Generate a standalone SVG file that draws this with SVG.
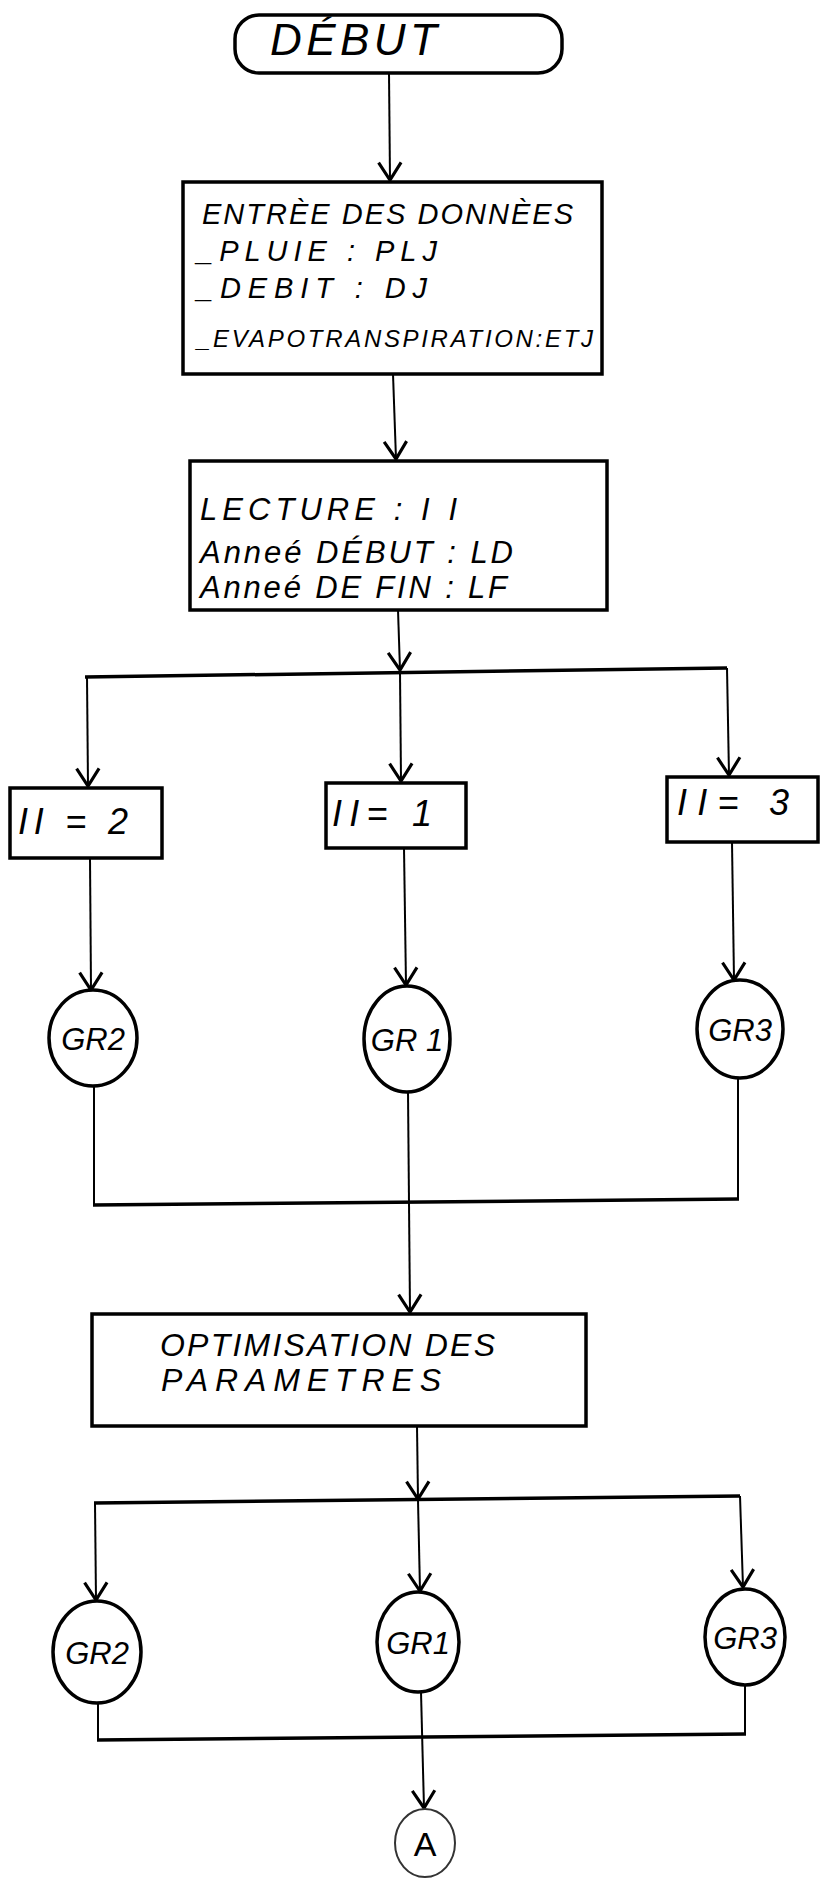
<svg xmlns="http://www.w3.org/2000/svg" width="824" height="1894" viewBox="0 0 824 1894">
<defs>
<marker id="arr" markerUnits="userSpaceOnUse" markerWidth="30" markerHeight="30" refX="0" refY="0" viewBox="-16 -12 20 24" orient="auto" overflow="visible">
<path d="M-14,-9 L0,0 L-14,9" fill="none" stroke="#000" stroke-width="2.5"/>
</marker>
<style>
.box{fill:#fff;stroke:#000;stroke-width:3.5}
.ell{fill:#fff;stroke:#000;stroke-width:3.5}
.c{fill:none;stroke:#000;stroke-width:2}
.h{fill:none;stroke:#000;stroke-width:3.5}
.t{font-family:"Liberation Sans",Arial,sans-serif;font-style:italic;fill:#000}
</style>
</defs>
<rect x="0" y="0" width="824" height="1894" fill="#fff"/>
<g id="connectors">
<line class="c" x1="389" y1="73" x2="390" y2="180" marker-end="url(#arr)"/>
<line class="c" x1="393" y1="374" x2="396" y2="459" marker-end="url(#arr)"/>
<line class="c" x1="398" y1="610" x2="400" y2="670" marker-end="url(#arr)"/>
<line class="h" x1="85" y1="677" x2="727" y2="668"/>
<line class="c" x1="87" y1="677" x2="88" y2="786" marker-end="url(#arr)"/>
<line class="c" x1="400" y1="672" x2="401" y2="781" marker-end="url(#arr)"/>
<line class="c" x1="727" y1="668" x2="729" y2="775" marker-end="url(#arr)"/>
<line class="c" x1="90" y1="858" x2="91" y2="990" marker-end="url(#arr)"/>
<line class="c" x1="404" y1="848" x2="406" y2="985" marker-end="url(#arr)"/>
<line class="c" x1="732" y1="842" x2="734" y2="980" marker-end="url(#arr)"/>
<line class="c" x1="94" y1="1086" x2="94" y2="1205"/>
<line class="c" x1="738" y1="1078" x2="738" y2="1199"/>
<line class="c" x1="408" y1="1092" x2="410" y2="1312" marker-end="url(#arr)"/>
<line class="h" x1="93" y1="1205" x2="739" y2="1199"/>
<line class="c" x1="417" y1="1426" x2="418" y2="1499" marker-end="url(#arr)"/>
<line class="h" x1="94" y1="1503" x2="740" y2="1496"/>
<line class="c" x1="95" y1="1503" x2="96" y2="1600" marker-end="url(#arr)"/>
<line class="c" x1="418" y1="1500" x2="420" y2="1591" marker-end="url(#arr)"/>
<line class="c" x1="740" y1="1496" x2="743" y2="1587" marker-end="url(#arr)"/>
<line class="c" x1="98" y1="1703" x2="98" y2="1740"/>
<line class="c" x1="745" y1="1685" x2="745" y2="1734"/>
<line class="h" x1="97" y1="1740" x2="746" y2="1734"/>
<line class="c" x1="421" y1="1692" x2="424" y2="1808" marker-end="url(#arr)"/>
</g>
<g id="debut">
<rect class="box" x="235" y="15" width="327" height="58" rx="24"/>
<text class="t" x="270" y="55" font-size="44" textLength="167" lengthAdjust="spacing">DÉBUT</text>
</g>
<g id="entree">
<rect class="box" x="183" y="182" width="419" height="192"/>
<text class="t" x="202" y="224" font-size="29" textLength="371" lengthAdjust="spacing">ENTRÈE DES DONNÈES</text>
<text class="t" x="197" y="261" font-size="29" textLength="240" lengthAdjust="spacing">_PLUIE : PLJ</text>
<text class="t" x="197" y="298" font-size="29" textLength="230" lengthAdjust="spacing">_DEBIT : DJ</text>
<text class="t" x="197" y="347" font-size="24" textLength="396" lengthAdjust="spacing">_EVAPOTRANSPIRATION:ETJ</text>
</g>
<g id="lecture">
<rect class="box" x="190" y="461" width="417" height="149"/>
<text class="t" x="200" y="520" font-size="31" textLength="257" lengthAdjust="spacing">LECTURE : I I</text>
<text class="t" x="200" y="563" font-size="31" textLength="313" lengthAdjust="spacing">Anneé DÉBUT : LD</text>
<text class="t" x="200" y="598" font-size="31" textLength="307" lengthAdjust="spacing">Anneé DE FIN : LF</text>
</g>
<g id="ii2">
<rect class="box" x="10" y="788" width="152" height="70"/>
<text class="t" x="18" y="834" font-size="36" textLength="110" lengthAdjust="spacing">II = 2</text>
</g>
<g id="ii1">
<rect class="box" x="326" y="783" width="140" height="65"/>
<text class="t" x="332" y="826" font-size="36" textLength="100" lengthAdjust="spacing">II= 1</text>
</g>
<g id="ii3">
<rect class="box" x="667" y="777" width="151" height="65"/>
<text class="t" x="677" y="815" font-size="36" textLength="112" lengthAdjust="spacing">II= 3</text>
</g>
<g id="gr2a">
<ellipse class="ell" cx="93" cy="1038" rx="44" ry="48"/>
<text class="t" x="93" y="1050" font-size="31" text-anchor="middle">GR2</text>
</g>
<g id="gr1a">
<ellipse class="ell" cx="407" cy="1039" rx="43" ry="53"/>
<text class="t" x="407" y="1051" font-size="31" text-anchor="middle">GR 1</text>
</g>
<g id="gr3a">
<ellipse class="ell" cx="740" cy="1029" rx="43" ry="49"/>
<text class="t" x="740" y="1041" font-size="31" text-anchor="middle">GR3</text>
</g>
<g id="optimisation">
<rect class="box" x="92" y="1314" width="494" height="112"/>
<text class="t" x="160" y="1356" font-size="32" textLength="335" lengthAdjust="spacing">OPTIMISATION DES</text>
<text class="t" x="161" y="1391" font-size="32" textLength="280" lengthAdjust="spacing">PARAMETRES</text>
</g>
<g id="gr2b">
<ellipse class="ell" cx="97" cy="1652" rx="44" ry="51"/>
<text class="t" x="97" y="1664" font-size="31" text-anchor="middle">GR2</text>
</g>
<g id="gr1b">
<ellipse class="ell" cx="418" cy="1642" rx="41" ry="50"/>
<text class="t" x="418" y="1654" font-size="31" text-anchor="middle">GR1</text>
</g>
<g id="gr3b">
<ellipse class="ell" cx="745" cy="1637" rx="40" ry="48"/>
<text class="t" x="745" y="1649" font-size="31" text-anchor="middle">GR3</text>
</g>
<g id="a">
<ellipse cx="425" cy="1843" rx="30" ry="34" fill="#fff" stroke="#333" stroke-width="2"/>
<text class="t" x="425" y="1856" font-size="34" text-anchor="middle" fill="#555" style="font-style:normal">A</text>
</g>
</svg>
